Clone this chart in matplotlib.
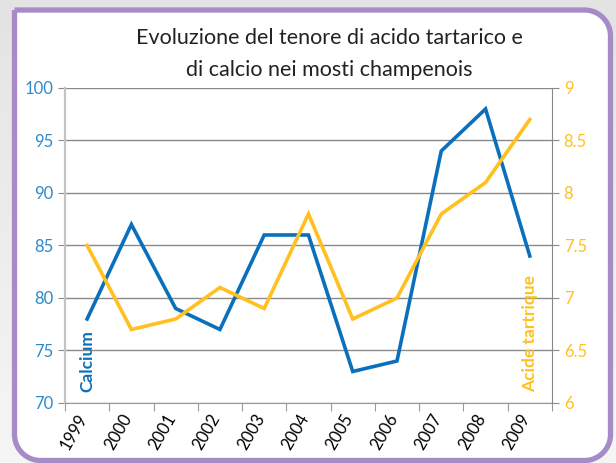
#Recreates the calcium / tartaric acid chart for champagne musts
import numpy as np
import matplotlib.pyplot as plt
from matplotlib.path import Path
from matplotlib.patches import PathPatch

years = ["1999", "2000", "2001", "2002", "2003", "2004", "2005", "2006", "2007", "2008", "2009"]
calcium = [78, 87, 79, 77, 86, 86, 73, 74, 94, 98, 84]
tartrique = [7.5, 6.7, 6.8, 7.1, 6.9, 7.8, 6.8, 7.0, 7.8, 8.1, 8.7]

blue = "#0A70BC"
yellow = "#FFC020"
purple = "#A68BC6"

plt.rcParams['font.family'] = ['Lato', 'DejaVu Sans']

fig = plt.figure(figsize=(6.16, 4.63), dpi=100)

#grey gradient background behind the frame
bg = fig.add_axes([0, 0, 1, 1], zorder=-10)
grad = np.linspace(0.89, 0.96, 100).reshape(-1, 1)
bg.imshow(grad, cmap="gray", vmin=0, vmax=1, aspect="auto", extent=[0, 1, 0, 1])
bg.axis("off")

#purple frame: square top-left corner, the others rounded (inches)
def arc(cx, cy, r, a0, a1):
    t = np.radians(np.linspace(a0, a1, 20))
    return list(zip(cx + r*np.cos(t), cy + r*np.sin(t)))

l, r_, b, t_ = 0.145, 6.105, 0.025, 4.53
rad = 0.26
pts = [(l, t_)]
pts += arc(r_ - rad, t_ - rad, rad, 90, 0)
pts += arc(r_ - rad, b + rad, rad, 0, -90)
pts += arc(l + rad, b + rad, rad, 270, 180)
pts.append((l, t_))
frame = PathPatch(Path(pts), facecolor="white", edgecolor=purple, linewidth=3.8,
                  transform=fig.dpi_scale_trans, zorder=-5)
fig.patches.append(frame)

fig.text(0.535, 0.883, "Evoluzione del tenore di acido tartarico e\ndi calcio nei mosti champenois",
         ha="center", va="center", fontsize=15.5, color="#222222", linespacing=1.75)

ax = fig.add_axes([0.1055, 0.1296, 0.7905, 0.6804])
ax.set_facecolor("none")
x = np.arange(len(years))
ax.plot(x, calcium, color=blue, linewidth=2.6, solid_joinstyle="miter", zorder=3)
ax.set_xlim(-0.5, len(years) - 0.5)
ax.set_ylim(70, 100)
ax.set_yticks(np.arange(70, 101, 5))
ax.grid(axis="y", color="#8a8a8a", linewidth=1)
ax.set_axisbelow(True)
ax.tick_params(axis="y", colors="#8a8a8a", labelcolor="#2F8ACB", length=5, labelsize=12)

ax.set_xticks(np.arange(-0.5, len(years)), labels=[])
ax.set_xticks(x + 0.08, labels=years, minor=True)
ax.tick_params(axis="x", which="major", length=6, color="#999999")
ax.tick_params(axis="x", which="minor", length=0, labelsize=12, pad=6)
for lab in ax.get_xticklabels(minor=True):
    lab.set_rotation(60)
    lab.set_ha("right")
    lab.set_va("top")

ax.spines["top"].set_visible(False)
ax.spines["left"].set_color("#c4c4c4")
ax.spines["left"].set_linewidth(1.6)
ax.spines["bottom"].set_color("#999999")
ax.spines["right"].set_visible(False)

ax2 = ax.twinx()
ax2.plot(x, tartrique, color=yellow, linewidth=2.6, solid_joinstyle="miter", zorder=2)
ax2.set_ylim(6, 9)
ax2.set_yticks(np.arange(6, 9.01, 0.5))
ax2.set_yticklabels(["6", "6.5", "7", "7.5", "8", "8.5", "9"])
ax2.tick_params(axis="y", colors="#8a8a8a", labelcolor=yellow, length=5, labelsize=12)
ax2.spines["top"].set_visible(False)
ax2.spines["left"].set_visible(False)
ax2.spines["bottom"].set_visible(False)
ax2.spines["right"].set_color("#888888")

ax.text(0, 71, "Calcium", rotation=90, ha="center", va="bottom", color=blue,
        fontsize=12.5, fontweight="bold")
ax.text(10, 71, "Acide tartrique", rotation=90, ha="center", va="bottom", color=yellow,
        fontsize=12.5, fontweight="bold")

fig.savefig("out.png", dpi=100)
